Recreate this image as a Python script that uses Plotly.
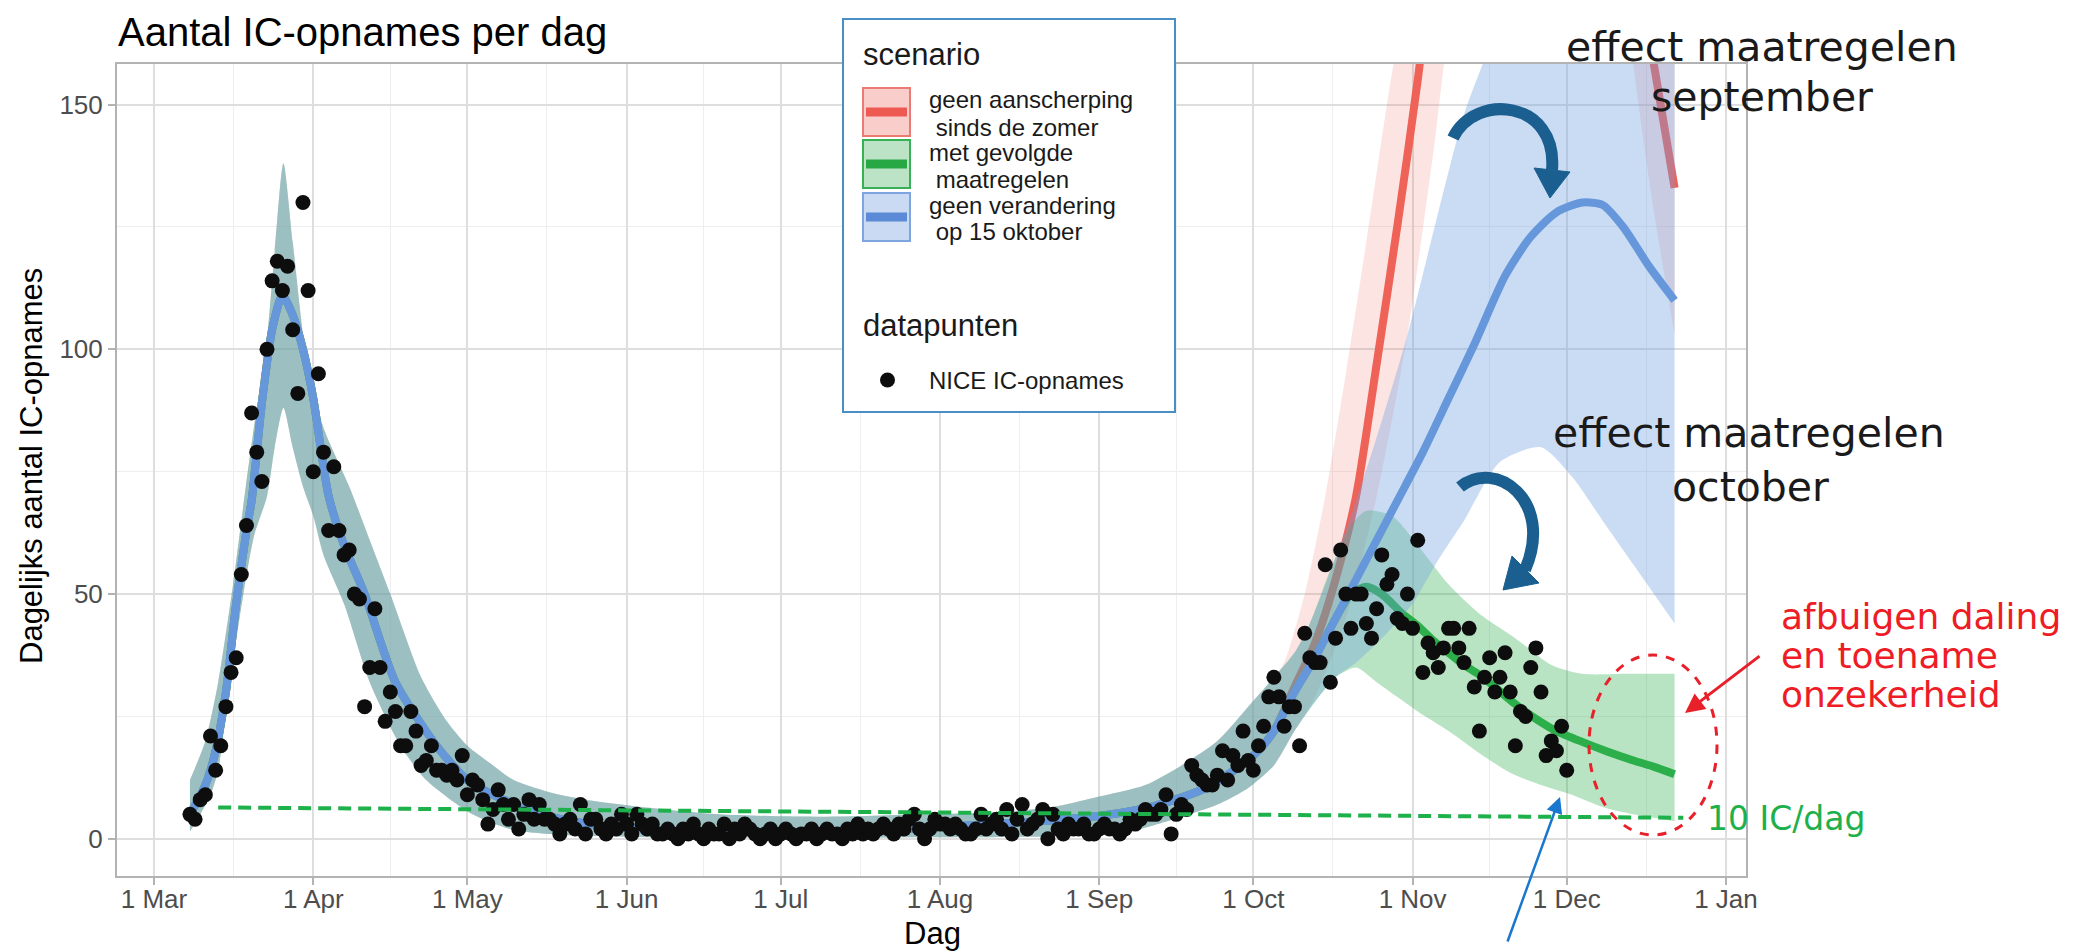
import pandas as pd
import plotly.graph_objects as go

# ------------------------------------------------------------------
# DATA
# ------------------------------------------------------------------
BASE = "2020-03-01"          # day 0 of all "day" arrays below

# NICE IC-opnames per dag, one value per day starting 8 March 2020
obs_first_day = "2020-03-08"
obs_values = [
    5, 4, 8, 9, 21, 14, 19, 27, 34, 37,
    54, 64, 87, 79, 73, 100, 114, 118, 112, 117,
    104, 91, 130, 112, 75, 95, 79, 63, 76, 63,
    58, 59, 50, 49, 27, 35, 47, 35, 24, 30,
    26, 19, 19, 26, 22, 15, 16, 19, 14, 14,
    13, 14, 12, 17, 9, 12, 11, 8, 3, 6,
    10, 7, 4, 7, 2, 5, 8, 4, 7, 4,
    4, 3, 1, 3, 4, 2, 7, 1, 4, 4,
    2, 1, 3, 2, 5, 3, 1, 5, 3, 2,
    3, 1, 1,
    2, 1, 0, 2, 1, 3, 1, 0, 2, 1,
    1, 3, 0, 2, 1, 3, 2, 1, 0, 1,
    2, 0, 1, 2, 1, 0, 1, 1, 2, 0,
    1, 2, 1, 1, 0, 2, 1, 3, 1, 2,
    1, 2, 3, 2, 1, 3, 2, 4,
    5, 2, 0, 2, 4, 3, 3, 2, 3, 2,
    1, 1, 2, 5, 2, 3, 4, 2, 6, 1,
    4, 7, 2, 3, 4, 6, 0, 5, 2, 1,
    3, 2, 2, 3, 1, 1, 2, 3, 2, 2,
    1, 2, 4, 3, 4, 6, 5, 5, 6, 9,
    1, 5,
    7, 6, 15, 13, 12, 11, 11, 13, 18, 12,
    17, 15, 22, 16, 14, 19, 23, 29, 33, 29,
    23, 27, 27, 19, 42, 37, 36, 36, 56, 32,
    41, 59, 50, 43, 50, 50, 44, 41, 47, 58,
    52, 54, 45, 44, 50, 43, 61, 34, 40, 38,
    35, 39, 43, 43, 39, 36, 43, 31, 22, 33,
    37, 30, 33, 38, 30, 19, 26, 25, 35, 39,
    30, 17, 20, 18, 23, 14,
]

# model fit shared by all scenarios (days since 1 March)
common_mid_day = [7, 10, 12, 14, 16, 18, 19, 21, 23, 25, 27, 29, 31, 34, 37, 41, 47, 55, 61, 67,
                  74, 80, 90, 100, 115, 130, 145, 160, 175, 185, 195, 205, 214, 218]
common_mid = [5, 11, 18, 30, 48, 63, 69, 89, 104, 111, 107, 100, 90, 70, 60, 50, 32, 19, 12, 8.5,
              5.5, 3.8, 2.4, 1.6, 1.2, 1.3, 2.0, 2.8, 3.8, 4.8, 6.8, 10.5, 17, 22]
common_up_day = [7, 10, 12.5, 15.4, 18, 20, 21.6, 23.5, 25.2, 27, 29.7, 33, 38, 42, 46, 52, 57, 61, 66, 70,
                 77, 84, 95, 110, 130, 150, 165, 175, 183, 193, 200, 207, 213, 218]
common_up = [12, 20, 32, 52, 73, 88, 98, 120, 138, 122, 98, 84, 72, 61, 50, 33, 24, 19, 15, 12,
             9.5, 8, 6.5, 5, 4.5, 5, 5.5, 6.5, 8.4, 11, 15, 20, 27, 33]
common_lo_day = [7, 9, 11, 12.5, 14.5, 17.4, 19.5, 22, 23.5, 25.2, 27, 29, 31, 33, 37, 42, 48, 53, 62, 70,
                 80, 100, 150, 180, 190, 200, 207, 213, 218]
common_lo = [1.5, 5, 9, 14, 30, 50, 62, 70, 80, 88, 80, 72, 66, 58, 48, 32, 19, 12, 5, 1.8,
             0.8, 0.3, 0.3, 0.6, 1.5, 4.5, 7, 10.4, 15]

# scenario "geen aanscherping sinds de zomer" (continuation after 5 Oct)
red_mid_day = [222, 226, 230, 234, 238, 242, 246, 250, 260, 272, 282, 288, 292, 296]
red_mid = [31, 40, 53, 70, 97, 125, 155, 190, 260, 290, 230, 185, 158, 133]
red_up_day = [220, 224, 228, 232, 236, 240, 243, 260, 296]
red_up = [36, 50, 70, 95, 122, 150, 170, 320, 330]
red_lo_day = [222, 226, 232, 238, 244, 249, 252, 265, 278, 284, 288, 292, 296]
red_lo = [22, 29, 45, 70, 103, 140, 165, 240, 230, 200, 158, 128, 103]

# scenario "met gevolgde maatregelen"
green_mid_day = [222, 226, 230, 233, 236, 239, 243, 246, 249, 252, 255, 258, 261, 265, 269, 273, 278,
                 283, 288, 292, 296]
green_mid = [30, 37, 45, 50, 51.5, 50, 46, 43.5, 40.5, 38, 35.5, 33.5, 31, 27.5, 24.5, 22, 19.8,
             17.8, 16, 14.7, 13.2]
green_up_day = [222, 225, 229, 233, 236, 241, 246, 252, 258, 265, 272, 278, 287, 296]
green_up = [38, 44, 55, 64, 67, 66, 60, 52, 46, 41, 35.5, 33.7, 33.7, 33.7]
green_lo_day = [222, 226, 230, 234, 238, 242, 246, 252, 258, 264, 270, 276, 282, 288, 296]
green_lo = [22, 28, 33, 35, 32, 29, 26, 22, 17.5, 13.5, 11, 9, 6.5, 5, 3.6]

# scenario "geen verandering op 15 oktober"
blue_mid_day = [222, 226, 230, 234, 238, 242, 247, 252, 257, 263, 268, 273, 278, 282, 286, 291, 296]
blue_mid = [30, 37, 45, 53, 61, 69, 79, 90, 101, 115, 123, 128, 130, 129.5, 125, 117, 110]
blue_up_day = [222, 225, 229.5, 233, 238, 244, 250, 255, 260, 270, 282, 296]
blue_up = [38, 44, 56, 66, 82, 103, 128, 148, 162, 190, 210, 215]
blue_lo_day = [222, 226, 230, 234, 240, 245, 250, 255, 262, 270, 276, 282, 288, 296]
blue_lo = [22, 28, 33, 36, 42, 48, 57, 65, 77, 80, 74, 65, 56, 44]

# "10 IC/dag" reference line
threshold_day = [12.5, 297.7]
threshold_val = [6.4, 4.3]

# axis ticks
month_ticks = ["2020-03-01", "2020-04-01", "2020-05-01", "2020-06-01", "2020-07-01", "2020-08-01",
               "2020-09-01", "2020-10-01", "2020-11-01", "2020-12-01", "2021-01-01"]
month_labels = ["1 Mar", "1 Apr", "1 May", "1 Jun", "1 Jul", "1 Aug", "1 Sep", "1 Oct", "1 Nov",
                "1 Dec", "1 Jan"]
y_ticks = [0, 50, 100, 150]
y_minor = [25, 75, 125]

# ------------------------------------------------------------------
# FIGURE
# ------------------------------------------------------------------
# layout is designed in page pixels; the page body adds an 8 px offset
PAGE_W, PAGE_H, OFF = 2084, 952, 8
PL, PR, PT, PB = 117, 1746, 64, 876          # plot panel in page pixels
W, H = PAGE_W - OFF, PAGE_H - OFF
PW, PH = PR - PL, PB - PT


def px(x):
    return (x - PL) / PW


def py(y):
    return (PB - y) / PH


def to_dates(days):
    return pd.Timestamp(BASE) + pd.to_timedelta(days, unit="D")


FONT = "Liberation Sans, Arial, sans-serif"
ANNFONT = "DejaVu Sans, Verdana, sans-serif"

fig = go.Figure()

SPL = dict(shape="spline", smoothing=0.7)

scenarios = [
    ("red", red_mid_day, red_mid, red_up_day, red_up, red_lo_day, red_lo,
     "rgba(240,110,100,0.19)", "#EF6257"),
    ("green", green_mid_day, green_mid, green_up_day, green_up, green_lo_day, green_lo,
     "rgba(50,175,80,0.34)", "#2CAF4A"),
    ("blue", blue_mid_day, blue_mid, blue_up_day, blue_up, blue_lo_day, blue_lo,
     "rgba(110,160,225,0.37)", "#6797DB"),
]

for name, md, mv, ud, uv, ld, lv, fillc, linec in scenarios:
    fig.add_trace(go.Scatter(x=to_dates(common_lo_day + ld), y=common_lo + lv, mode="lines",
                             line=dict(width=0, **SPL), hoverinfo="skip", showlegend=False))
    fig.add_trace(go.Scatter(x=to_dates(common_up_day + ud), y=common_up + uv, mode="lines",
                             line=dict(width=0, **SPL), fill="tonexty", fillcolor=fillc,
                             hoverinfo="skip", showlegend=False))
    fig.add_trace(go.Scatter(x=to_dates(common_mid_day + md), y=common_mid + mv, mode="lines",
                             line=dict(color=linec, width=8, **SPL), name=name, showlegend=False))

obs_dates = pd.date_range(obs_first_day, periods=len(obs_values), freq="D")
fig.add_trace(go.Scatter(x=obs_dates, y=obs_values, mode="markers",
                         marker=dict(color="#0d0d0d", size=15, line=dict(width=0)),
                         name="NICE IC-opnames", showlegend=False))

fig.add_trace(go.Scatter(x=to_dates(threshold_day), y=threshold_val, mode="lines",
                         line=dict(color="#1DB04B", width=4, dash="13px,7px"),
                         hoverinfo="skip", showlegend=False))

# minor grid midway between month ticks
tick_ts = pd.to_datetime(month_ticks)
minor_x = [tick_ts[i] + (tick_ts[i + 1] - tick_ts[i]) / 2 for i in range(len(tick_ts) - 1)]

x0 = to_dates([-7.2])[0]
x1 = to_dates([309.9])[0]

fig.update_xaxes(
    type="date", range=[x0, x1], tickmode="array", tickvals=month_ticks, ticktext=month_labels,
    showgrid=True, gridcolor="#DEDEDE", gridwidth=1.6,
    minor=dict(tickvals=minor_x, showgrid=True, gridcolor="#EEEEEE", gridwidth=1, ticks=""),
    ticks="outside", ticklen=7, tickwidth=1.5, tickcolor="#B3B3B3",
    tickfont=dict(family=FONT, size=26, color="#4D4D4D"), ticklabelstandoff=-8,
    showline=True, linecolor="#B3B3B3", linewidth=2, mirror=True, zeroline=False,
    automargin=False,
)
fig.update_yaxes(
    range=[-7.6, 158.3], tickmode="array", tickvals=y_ticks,
    showgrid=True, gridcolor="#DEDEDE", gridwidth=1.6,
    minor=dict(tickvals=y_minor, showgrid=True, gridcolor="#EEEEEE", gridwidth=1, ticks=""),
    ticks="outside", ticklen=7, tickwidth=1.5, tickcolor="#B3B3B3",
    tickfont=dict(family=FONT, size=26, color="#4D4D4D"),
    showline=True, linecolor="#B3B3B3", linewidth=2, mirror=True, zeroline=False,
    automargin=False,
)

shapes = []
annotations = []


def text(x, y, s, size, color="#1a1a1a", family=FONT, xanchor="left", angle=0):
    annotations.append(dict(x=px(x), y=py(y), xref="paper", yref="paper", text=s, showarrow=False,
                            xanchor=xanchor, yanchor="middle", textangle=angle,
                            font=dict(family=family, size=size, color=color)))


# titles
text(116, 32, "Aantal IC-opnames per dag", 40, color="#000000")
text(932, 933, "Dag", 31, color="#000000", xanchor="center")
text(31, 466, "Dagelijks aantal IC-opnames", 31, color="#000000", xanchor="center", angle=-90)

# manual legend box
shapes.append(dict(type="rect", xref="paper", yref="paper", x0=px(843), x1=px(1175), y0=py(412),
                   y1=py(19), line=dict(color="#4A8FC4", width=2), fillcolor="white", layer="above"))
text(861, 55, "scenario", 31)
legend_keys = [
    (112, "#F9CDCA", "#EC7A74", "#EE5A52", "geen aanscherping", "\u00a0sinds de zomer"),
    (164, "#BCE3C6", "#38B156", "#27A844", "met gevolgde", "\u00a0maatregelen"),
    (217, "#CADAF2", "#7EA5E0", "#5B8AD6", "geen verandering", "\u00a0op 15 oktober"),
]
for cy, fillc, edge, linec, l1, l2 in legend_keys:
    shapes.append(dict(type="rect", xref="paper", yref="paper", x0=px(863), x1=px(910),
                       y0=py(cy + 24), y1=py(cy - 24), line=dict(color=edge, width=2),
                       fillcolor=fillc, layer="above"))
    shapes.append(dict(type="line", xref="paper", yref="paper", x0=px(866), x1=px(907),
                       y0=py(cy), y1=py(cy), line=dict(color=linec, width=9), layer="above"))
    text(927, cy - 12, l1, 24)
    text(927, cy + 15, l2, 24)
text(861, 325, "datapunten", 31)
shapes.append(dict(type="circle", xref="paper", yref="paper", x0=px(880), x1=px(895),
                   y0=py(387.5), y1=py(372.5), fillcolor="#0d0d0d", line=dict(width=0),
                   layer="above"))
text(927, 380, "NICE IC-opnames", 24)

# commentary
text(1762, 47, "effect maatregelen", 41, family=ANNFONT, xanchor="center")
text(1762, 97, "september", 41, family=ANNFONT, xanchor="center")
text(1749, 433, "effect maatregelen", 41, family=ANNFONT, xanchor="center")
text(1750, 487, "october", 41, family=ANNFONT, xanchor="center")
text(1779, 616, "afbuigen daling", 36, color="#EE1C25", family=ANNFONT)
text(1779, 655, "en toename", 36, color="#EE1C25", family=ANNFONT)
text(1779, 694, "onzekerheid", 36, color="#EE1C25", family=ANNFONT)
text(1705, 818, "10 IC/dag", 33, color="#1DB04B", family=ANNFONT)


def P(x, y):
    return f"{px(x):.5f},{py(y):.5f}"


ARROW = "#1A5F8F"
# curved arrow 1 (september)
shapes.append(dict(type="path", xref="paper", yref="paper",
                   path=f"M {P(1453,138)} C {P(1475,92)} {P(1558,100)} {P(1552,170)}",
                   line=dict(color=ARROW, width=12), layer="above"))
shapes.append(dict(type="path", xref="paper", yref="paper",
                   path=f"M {P(1534,168)} L {P(1570,172)} L {P(1550,198)} Z",
                   fillcolor=ARROW, line=dict(color=ARROW, width=1), layer="above"))
# curved arrow 2 (october)
shapes.append(dict(type="path", xref="paper", yref="paper",
                   path=f"M {P(1460,487)} C {P(1495,458)} {P(1555,500)} {P(1525,570)}",
                   line=dict(color=ARROW, width=12), layer="above"))
shapes.append(dict(type="path", xref="paper", yref="paper",
                   path=f"M {P(1512,556)} L {P(1539,583)} L {P(1503,590)} Z",
                   fillcolor=ARROW, line=dict(color=ARROW, width=1), layer="above"))

# red dashed ellipse
shapes.append(dict(type="circle", xref="paper", yref="paper", x0=px(1589), x1=px(1717),
                   y0=py(835), y1=py(655), line=dict(color="#E8202A", width=3, dash="dash"),
                   layer="above"))

# red arrow and blue arrow
annotations.append(dict(x=px(1685), y=py(713), xref="paper", yref="paper", text="", showarrow=True,
                        ax=76, ay=-58, arrowcolor="#E8202A", arrowwidth=3, arrowhead=2,
                        arrowsize=1.3))
annotations.append(dict(x=px(1560), y=py(797), xref="paper", yref="paper", text="", showarrow=True,
                        ax=-53, ay=146, arrowcolor="#1878CF", arrowwidth=2.5, arrowhead=2,
                        arrowsize=1.3))

fig.update_layout(
    width=W, height=H, autosize=False,
    margin=dict(l=PL - OFF, r=W - (PR - OFF), t=PT - OFF, b=H - (PB - OFF), pad=0),
    paper_bgcolor="white", plot_bgcolor="white",
    showlegend=False, shapes=shapes, annotations=annotations,
    font=dict(family=FONT),
)

fig.write_html("out.html")
